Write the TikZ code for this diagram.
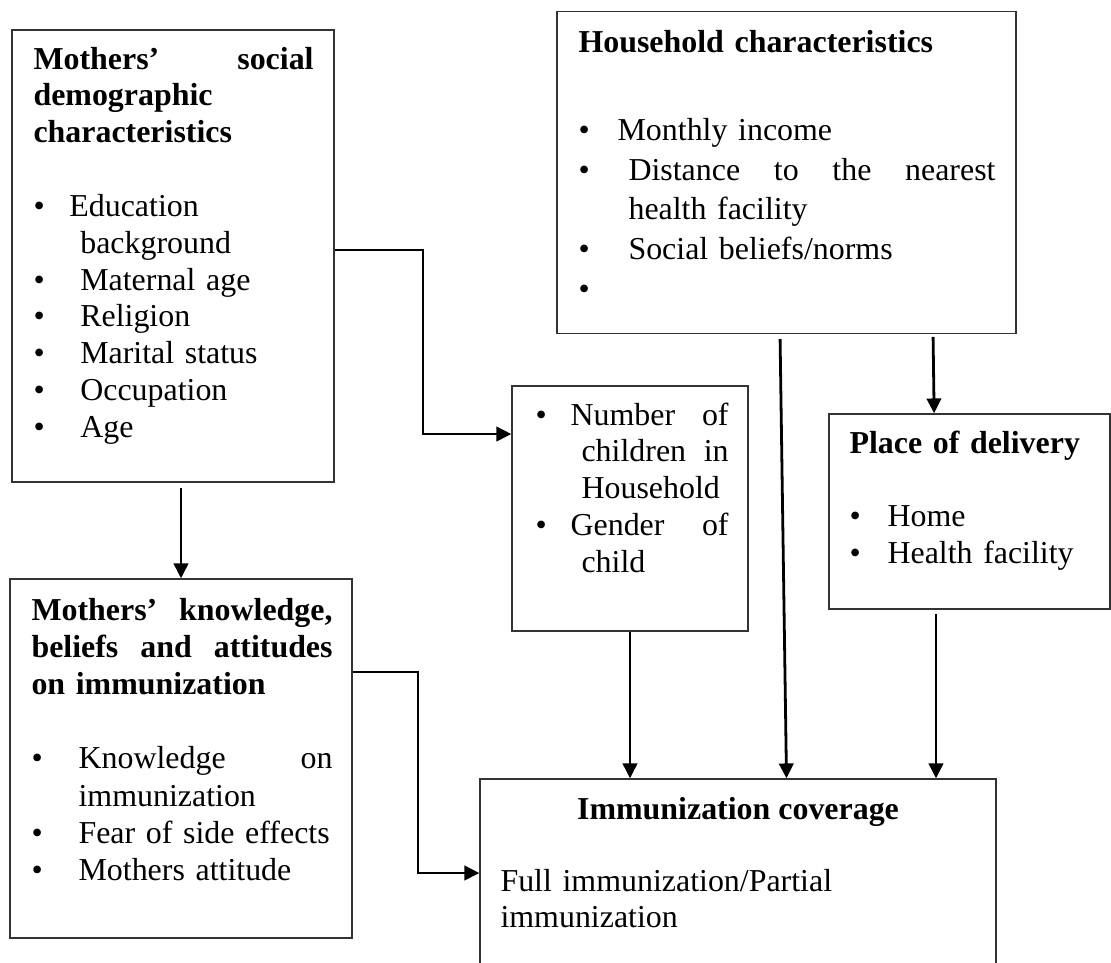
\documentclass[tikz,border=0pt]{standalone}
\usepackage{fontspec}
\setmainfont{Liberation Serif}
\usetikzlibrary{arrows.meta}
\newcommand\bul[2]{\makebox[#1][l]{\textbullet}#2}
\begin{document}
\begin{tikzpicture}[x=0.376pt,y=-0.376pt,
  box/.style={draw=black!80,line width=0.5pt,inner sep=0pt,anchor=center},
  txt/.style={anchor=base west,inner sep=0pt,align=left,font=\fontsize{12}{13.85}\selectfont},
  conn/.style={draw=black,line width=1.05pt,-{Triangle[length=5.6pt,width=5.4pt]}}]
\useasboundingbox (0,0) rectangle (1111,962);
\clip (0,0) rectangle (1111,962);
% boxes
\node[box,minimum width=121.07pt,minimum height=169.95pt] (A) at (173,256) {};
\node[box,minimum width=172.58pt,minimum height=121.07pt] (B) at (786.5,172.5) {};
\node[box,minimum width=88.74pt,minimum height=92.12pt] (C) at (630,508.5) {};
\node[box,minimum width=105.66pt,minimum height=73.32pt] (D) at (969.5,511.5) {};
\node[box,minimum width=128.59pt,minimum height=134.98pt] (E) at (181,758.5) {};
\node[box,minimum width=194.02pt,minimum height=83.1pt] (F) at (738,889.5) {};
% texts
\node[txt,text width=105.3pt] (Atext) at (33,69) {%
\textbf{Mothers’\hfill social}\\
\textbf{demographic}\\
\textbf{characteristics}\\
\mbox{}\\
\bul{13.5pt}{Education}\\
\hspace*{17.6pt}background\\
\bul{17.6pt}{Maternal age}\\
\bul{17.6pt}{Religion}\\
\bul{17.6pt}{Marital status}\\
\bul{17.6pt}{Occupation}\\
\bul{17.6pt}{Age}};
\node[txt,text width=156.8pt,font=\fontsize{12}{14.9}\selectfont] (Btext) at (578,52) {%
\textbf{Household characteristics}\\
\mbox{}\\[3.5pt]
\bul{14.7pt}{Monthly income}\\
\bul{18.8pt}{Distance\hfill to\hfill the\hfill nearest}\\
\hspace*{18.8pt}health facility\\
\bul{18.8pt}{Social beliefs/norms}\\
\textbullet};
\node[txt,text width=72.6pt] (Ctext) at (535,425) {%
\bul{13.2pt}{Number\hfill of}\\
\hspace*{17.3pt}children\hfill in\\
\hspace*{17.3pt}Household\\
\bul{13.2pt}{Gender\hfill of}\\
\hspace*{17.3pt}child};
\node[txt,text width=100pt] (Dtext) at (849,453) {%
\textbf{Place of delivery}\\
\mbox{}\\
\bul{14.3pt}{Home}\\
\bul{14.3pt}{Health facility}};
\node[txt,text width=113.2pt,font=\fontsize{12}{14.0}\selectfont] (Etext) at (31,620) {%
\textbf{Mothers’\hfill knowledge,}\\
\textbf{beliefs\hfill and\hfill attitudes}\\
\textbf{on immunization}\\
\mbox{}\\
\bul{17.7pt}{Knowledge\hfill on}\\
\hspace*{17.7pt}immunization\\
\bul{17.7pt}{Fear of side effects}\\
\bul{17.7pt}{Mothers attitude}};
\node[anchor=base,inner sep=0pt,font=\fontsize{12}{13.85}\selectfont] (Ftitle) at (738,819) {\textbf{Immunization coverage}};
\node[txt,text width=160pt] (Ftext) at (500,891) {Full immunization/Partial\\immunization};
% connectors
\coordinate (ac1) at (423,250);
\coordinate (ac2) at (0,434);
\draw[conn] (A.east |- ac1) -- (ac1) |- (C.west |- ac2);
\coordinate (ef1) at (418,672);
\coordinate (ef2) at (0,873);
\draw[conn] (E.east |- ef1) -- (ef1) |- (F.west |- ef2);
\draw[conn,shorten <=1.9pt] (A.south -| E.north) -- (E.north);
\draw[conn] (C.south) -- (C.south |- F.north);
\draw[conn,shorten <=1.9pt] ([xshift=-2.44pt]B.south) -- (F.north -| B.south);
\draw[conn,shorten <=1.0pt] ([xshift=55.1pt]B.south) -- ([xshift=-13.3pt]D.north);
\draw[conn,shorten <=1.5pt] ([xshift=-12.6pt]D.south) -- ([xshift=-12.6pt]D.south |- F.north);
\end{tikzpicture}
\end{document}
